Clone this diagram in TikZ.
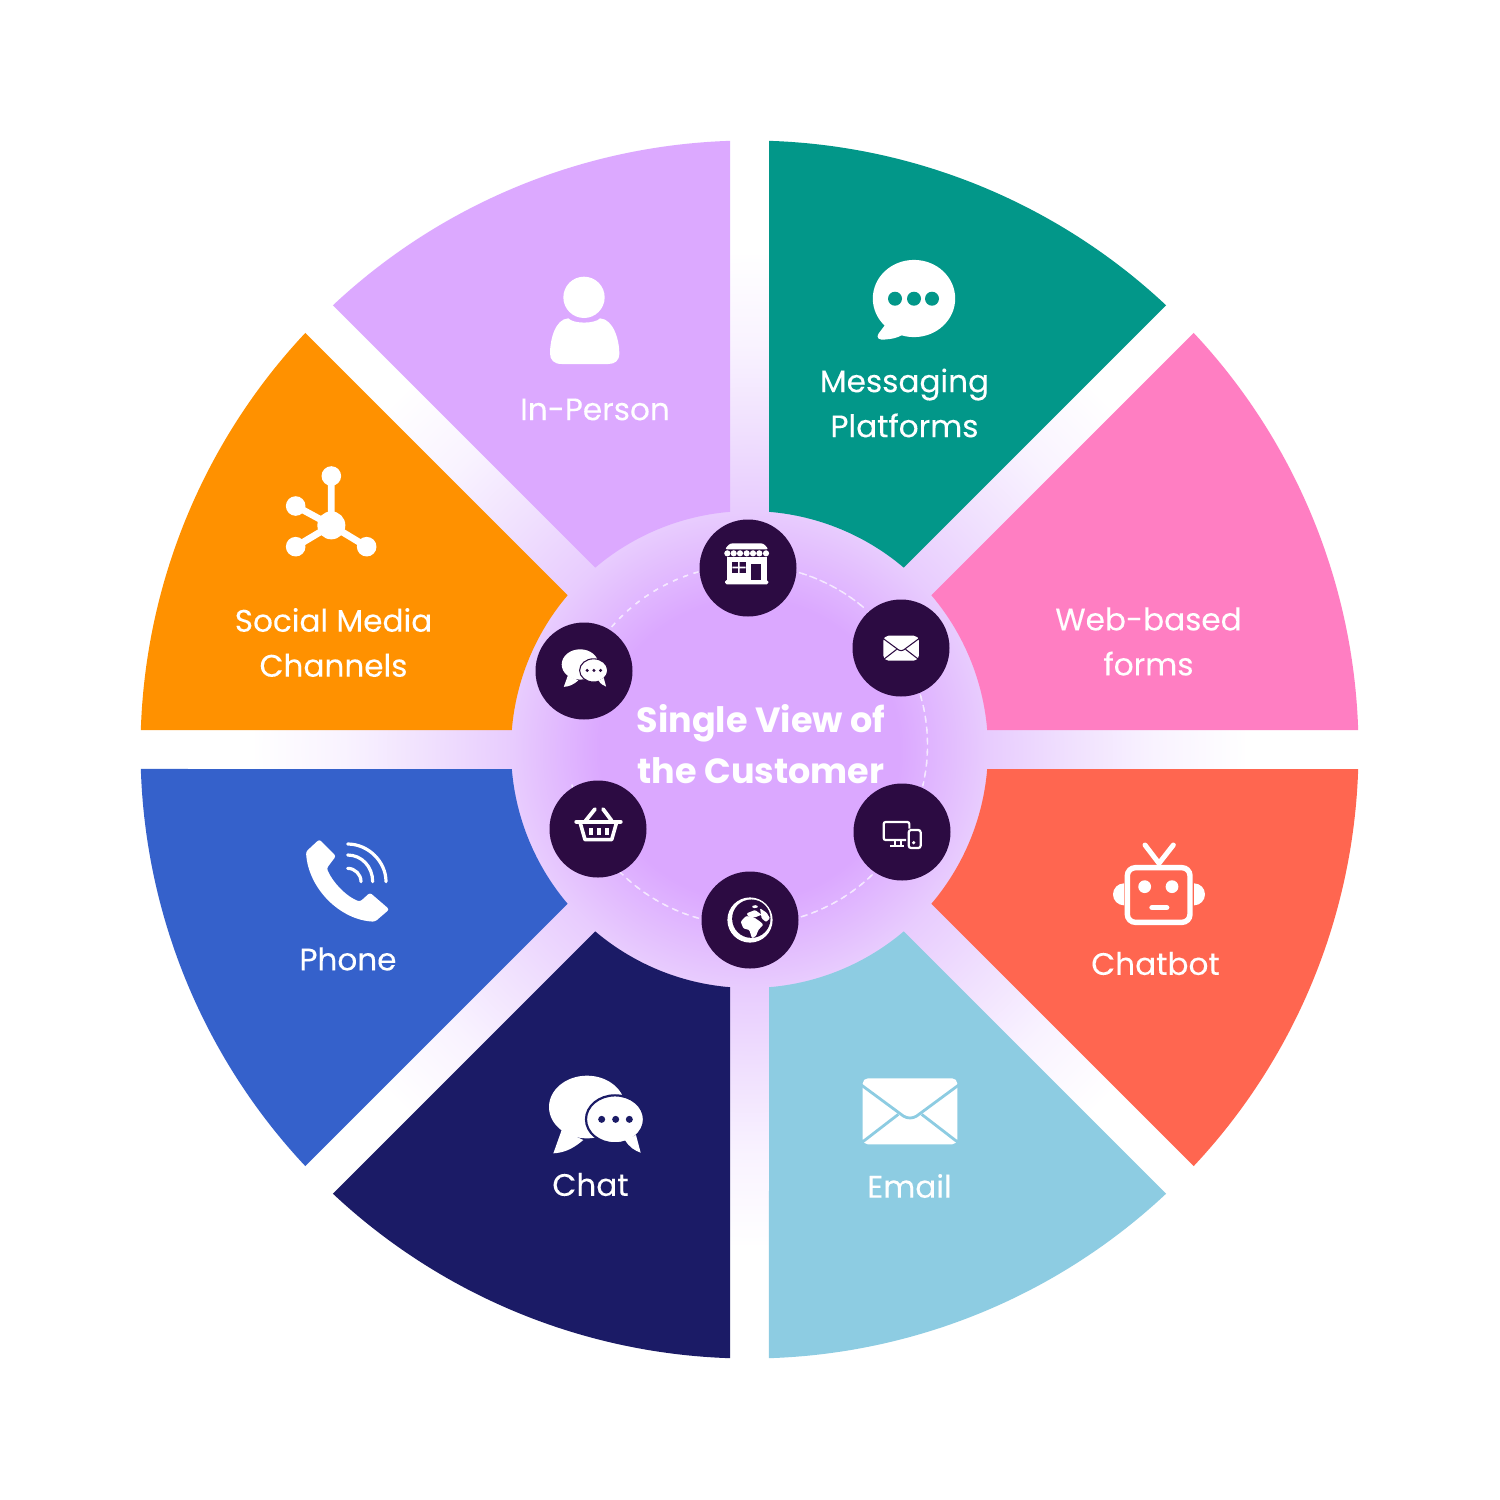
\documentclass[tikz,border=0pt]{standalone}
\usepackage{fontspec}
\setmainfont{Poppins}
\newfontfamily\labelfont[FakeBold=0.12]{Poppins}
\definecolor{glowA}{HTML}{DBA8FF}
\definecolor{glowB}{HTML}{E8CCFE}
\definecolor{glowC}{HTML}{F0E0FE}
\definecolor{glowD}{HTML}{F9F3FF}
\definecolor{cPerson}{HTML}{DCA9FF}
\definecolor{cMsg}{HTML}{029789}
\definecolor{cWeb}{HTML}{FF7EC2}
\definecolor{cBot}{HTML}{FF6650}
\definecolor{cMail}{HTML}{8DCCE2}
\definecolor{cChat}{HTML}{1B1B66}
\definecolor{cPhone}{HTML}{3561CB}
\definecolor{cSocial}{HTML}{FF9100}
\definecolor{cDark}{HTML}{2C0B42}
\definecolor{cRing}{HTML}{F5E8FF}
\pgfdeclareradialshading{wheelglow}{\pgfpoint{0bp}{0bp}}{color(0bp)=(glowA); color(7.2bp)=(glowA); color(11.44bp)=(glowB); color(15.38bp)=(glowC); color(19.5bp)=(glowD); color(24bp)=(white); color(50bp)=(white)}
\tikzset{
  zoomed/.style args={#1,#2}{shift={(#1,#2)},x=0.166667pt,y=-0.166667pt},
  darkdot/.style={circle,fill=cDark,minimum size=48.5pt,inner sep=0pt},
  lab/.style={text=white,align=center,font=\labelfont\fontsize{15.55}{22.5}\selectfont},
  centerlab/.style={text=white,align=center,font=\fontsize{17.5}{25.3}\selectfont\bfseries},
  ringarc/.style={draw=cRing,line width=0.7pt,dash pattern=on 2.5pt off 3pt},
  wave/.style={draw=white,line width=1.6pt,line cap=round},
}
% chat bubbles icon, reference frame 130x110 px in 3x units
\newcommand{\chaticon}[4]{%
\begin{scope}[shift={(#1,#2)},x=0.166667pt,y=-0.166667pt,scale=#3]
  \fill[white] (171,141) ellipse [x radius=19pt,y radius=15.67pt];
  \fill[white] (95,210) -- (70,280) .. controls (105,278) and (130,265) .. (160,240) -- cycle;
  \fill[white,draw=#4,line width=#3*1.1pt] (255,178) ellipse [x radius=14.5pt,y radius=12pt];
  \fill[white] (285,240) .. controls (298,262) and (315,272) .. (332,278) -- (318,225) -- cycle;
  \fill[#4] (215,178) circle [radius=1.75pt] (257,178) circle [radius=1.75pt] (298,178) circle [radius=1.75pt];
\end{scope}}
% envelope icon
\newcommand{\mailicon}[4]{%
\begin{scope}[shift={(#1,#2)},x=0.166667pt,y=-0.166667pt,scale=#3]
  \fill[white,rounded corners=2.6pt] (38,40) rectangle (322,238);
  \draw[#4,line width=#3*1.4pt,line join=round] (34,60) -- (160,153) .. controls (172,161) and (188,161) .. (200,153) -- (326,60);
  \draw[#4,line width=#3*1.4pt] (145,148) -- (36,232) (215,148) -- (324,232);
\end{scope}}
\begin{document}
\begin{tikzpicture}[x=0.5pt,y=-0.5pt]
\useasboundingbox (0,0) rectangle (1500,1500);
\fill[white] (0,0) rectangle (1500,1500);
\shade[shading=wheelglow] (749.5,749.5) circle [radius=260pt];
% sectors
\foreach \ang/\col in {0/cWeb,45/cMsg,90/cPerson,135/cSocial,180/cPhone,225/cChat,270/cMail,315/cBot}{
  \begin{scope}[shift={(749.5,749.5)},rotate=\ang]
    \fill[\col] (1.835:304.5pt) arc[start angle=1.835,end angle=43.165,radius=304.5pt]
      -- (40.31:119.25pt) arc[start angle=40.31,end angle=4.69,radius=119.25pt] -- cycle;
  \end{scope}
}
% dashed ring
\coordinate (ringc) at (747.5,745);
\foreach \a/\b in {73.4/48.9, 15.7/-12.8, -46/-72.4, -105.6/-134.1, -167.3/172.2, 139/106.6}{
  \draw[ringarc] ([shift=(\a:90pt)]ringc) arc[start angle=\a,end angle=\b,radius=90pt];
}
% inner dots
\node[darkdot] (shop) at (748,568) {};
\node[darkdot] (mailc) at (901,648) {};
\node[darkdot] (devices) at (902,832) {};
\node[darkdot] (globe) at (750,920) {};
\node[darkdot] (basket) at (598,829) {};
\node[darkdot] (chatc) at (584,671) {};
% ---- shop
\begin{scope}[zoomed={500,500}]
  \fill[white,rounded corners=1.2pt] (674,148) -- (690,130) -- (790,130) -- (806,148) -- cycle;
  \fill[white] (682,170) rectangle (800,243);
  \foreach \x in {682,701,720,740,759,778,798}{\fill[white] (\x,160) circle [radius=1.55pt];}
  \fill[cDark] (752,192) rectangle (782,240);
  \fill[cDark] (697,185) rectangle (737,220);
  \fill[white] (714,185) rectangle (719,220) (697,200) rectangle (737,205);
  \fill[white,rounded corners=0.8pt] (675,240) rectangle (805,253);
\end{scope}
% ---- small mail and chat
\mailicon{878.5}{630.7}{0.377}{cDark}
\chaticon{552.5}{641.7}{0.484}{cDark}
% ---- devices
\begin{scope}[zoomed={500,500}]
  \draw[white,line width=1.1pt,rounded corners=1pt] (1228,986) -- (1228,966) -- (1151,966) -- (1151,1020) -- (1218,1020);
  \draw[white,line width=1.1pt] (1184,1021) -- (1184,1036) (1204,1021) -- (1204,1036) (1170,1037) -- (1212,1037);
  \draw[white,line width=1.1pt,rounded corners=1.2pt] (1226,990) rectangle (1262,1044);
  \fill[white] (1241,1028) circle [radius=0.9pt];
\end{scope}
% ---- globe
\begin{scope}[zoomed={720,890}]
  \fill[white] (90,90) circle [radius=11.3pt];
  \fill[cDark] (94,86) circle [radius=9.6pt];
  \fill[white,rounded corners=0.5pt] (62,95) -- (78,78) -- (102,82) -- (122,96) -- (130,104) -- (115,120) -- (108,138) -- (96,145) -- (88,120) -- (70,115) -- cycle;
  \fill[white,rounded corners=0.5pt] (80,70) -- (105,60) -- (125,74) -- (105,82) -- (85,80) -- cycle;
  \fill[white,rounded corners=0.5pt] (120,55) -- (140,68) -- (150,85) -- (138,96) -- (125,85) -- cycle;
  \fill[white,rounded corners=0.5pt] (95,48) -- (110,45) -- (115,52) -- (100,55) -- cycle;
\end{scope}
% ---- basket
\begin{scope}[zoomed={500,500}]
  \draw[white,line width=2pt,line cap=round] (229,965) -- (362,965);
  \draw[white,line width=1.9pt,line cap=round] (257,962) -- (285,927) (335,962) -- (309,927);
  \draw[white,line width=1.8pt,line join=round] (241,970) -- (255,1019) -- (335,1019) -- (349,970);
  \draw[white,line width=2pt] (272,984) -- (272,1005) (296,984) -- (296,1005) (320,984) -- (320,1005);
\end{scope}
% ---- person
\begin{scope}[zoomed={260,250}]
  \fill[white] (972,142) circle [radius=10.33pt];
  \fill[white] (925,205) .. controls (940,222) and (1005,222) .. (1020,205)
     .. controls (1060,207) and (1078,270) .. (1078,310)
     .. controls (1078,332) and (1065,342) .. (1045,342) -- (905,342)
     .. controls (882,342) and (870,330) .. (870,310)
     .. controls (870,270) and (885,207) .. (925,205) -- cycle;
\end{scope}
% ---- hub
\begin{scope}[zoomed={260,250}]
  \draw[white,line width=3.4pt] (214,826) -- (214,678) (214,826) -- (107,768) (214,826) -- (107,890) (214,826) -- (320,890);
  \fill[white] (214,826) circle [radius=7pt];
  \fill[white] (214,678) circle [radius=4.9pt] (107,768) circle [radius=4.9pt] (107,890) circle [radius=4.9pt] (320,890) circle [radius=4.9pt];
\end{scope}
% ---- speech bubble
\fill[white] (914,298.5) ellipse [x radius=20.6pt,y radius=19.3pt];
\fill[white,line join=round] (885,325) -- (879,333) .. controls (875,339) and (880,340) .. (885,339.5) .. controls (892,339) and (897,338) .. (902,335) -- cycle;
\fill[cMsg] (895,298.7) circle [radius=3.5pt] (914,298.7) circle [radius=3.5pt] (932,298.7) circle [radius=3.5pt];
% ---- phone
\begin{scope}[zoomed={280,820}]
  \fill[white,rounded corners=1.2pt] (118,58) -- (168,108) -- (140,145)
     .. controls (160,190) and (200,230) .. (240,245) -- (270,218) -- (328,268) -- (285,305)
     .. controls (180,300) and (85,205) .. (78,95) -- cycle;
  \draw[wave] (203,72) .. controls (265,72) and (318,125) .. (318,185);
  \draw[wave] (203,105) .. controls (245,105) and (278,140) .. (278,185);
  \draw[wave] (203,145) .. controls (225,145) and (243,163) .. (243,185);
\end{scope}
% ---- robot
\begin{scope}[zoomed={1090,830}]
  \fill[white] (102,160) arc[start angle=90,end angle=270,radius=5.5pt] -- cycle;
  \fill[white] (312,160) arc[start angle=90,end angle=-90,radius=5.5pt] -- cycle;
  \draw[white,line width=2.7pt,rounded corners=4pt] (112,113) rectangle (300,277);
  \fill[white] (164,170) circle [radius=3.2pt] (246,170) circle [radius=3.2pt];
  \draw[white,line width=2.7pt,line cap=round] (186,233) -- (230,233);
  \draw[white,line width=2.5pt,line cap=round,line join=round] (165,45) -- (207,100) -- (250,45);
\end{scope}
% ---- big chat and mail
\chaticon{530}{1060}{1}{cChat}
\mailicon{850}{1065}{1}{cMail}
% labels
\node[lab] (lperson) at (595,409.5) {In-Person};
\node[lab] (lmsg) at (904.5,403) {Messaging\\Platforms};
\node[lab] (lsocial) at (333.5,642.5) {Social Media\\Channels};
\node[lab] (lweb) at (1148.5,641.5) {Web-based\\forms};
\node[lab] (lbot) at (1155.5,963.5) {Chatbot};
\node[lab] (lphone) at (348,959) {Phone};
\node[lab] (lchat) at (590.5,1184.5) {Chat};
\node[lab] (lmail) at (909.5,1186) {Email};
\node[centerlab] (lcenter) at (761,744) {Single View of\\the Customer};
\end{tikzpicture}
\end{document}
